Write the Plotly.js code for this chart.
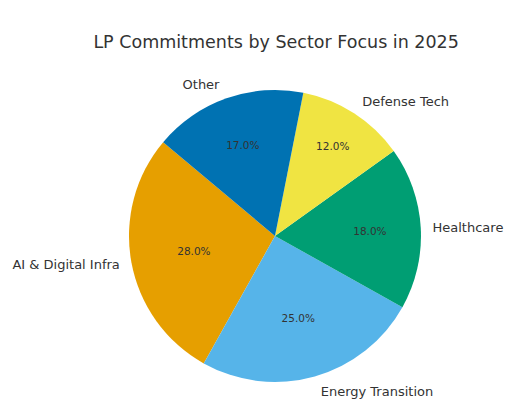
<!DOCTYPE html>
<html>
<head>
<meta charset="utf-8">
<script src="https://cdn.plot.ly/plotly-3.0.1.min.js"></script>
<style>
  html, body { margin: 0; padding: 0; background: #fff; }
  #chart { width: 528px; height: 413px; }
</style>
</head>
<body>
<div id="chart"></div>
<script>
// slices in drawing order, counter-clockwise from 140 deg
const sectors = ['AI & Digital Infra', 'Energy Transition', 'Healthcare', 'Defense Tech', 'Other'];
const shares = [28, 25, 18, 12, 17];
const slice_colors = ['#E69F00', '#56B4E9', '#009E73', '#F0E442', '#0072B2'];

const FONT = 'DejaVu Sans, sans-serif';
const pie_domain = {x: [0.2443, 0.7973], y: [0.0751, 0.7821]};
// slightly larger invisible pie so the names sit further out, like labeldistance 1.1
const label_domain = {x: [0.2292, 0.8125], y: [0.0557, 0.8015]};
const ROT = 209.2;

let pct_trace = {
    type: 'pie',
    labels: sectors,
    values: shares,
    sort: false,
    direction: 'counterclockwise',
    rotation: ROT,
    domain: pie_domain,
    marker: {colors: slice_colors, line: {width: 0}},
    textposition: 'inside',
    insidetextorientation: 'horizontal',
    texttemplate: '%{percent:.1%}',
    insidetextfont: {family: FONT, size: 10.5, color: '#333333'},
    hoverinfo: 'label+percent',
    showlegend: false,
};

let label_trace = {
    type: 'pie',
    labels: sectors,
    values: shares,
    sort: false,
    direction: 'counterclockwise',
    rotation: ROT,
    domain: label_domain,
    marker: {colors: sectors.map(() => 'rgba(0,0,0,0)'), line: {width: 0}},
    textposition: 'outside',
    textinfo: 'label',
    outsidetextfont: {family: FONT, size: 13, color: '#333333'},
    hoverinfo: 'skip',
    showlegend: false,
};

let layout = {
    width: 528,
    height: 413,
    margin: {t: 0, l: 0, r: 0, b: 0},
    paper_bgcolor: '#ffffff',
    title: {
        text: 'LP Commitments by Sector Focus in 2025',
        font: {family: FONT, size: 17.5, color: '#333333'},
        x: 0.523,
        xanchor: 'center',
        y: 0.898,
        yref: 'container',
        yanchor: 'middle',
    },
};

Plotly.newPlot('chart', [pct_trace, label_trace], layout, {displayModeBar: false, staticPlot: true});
</script>
</body>
</html>
